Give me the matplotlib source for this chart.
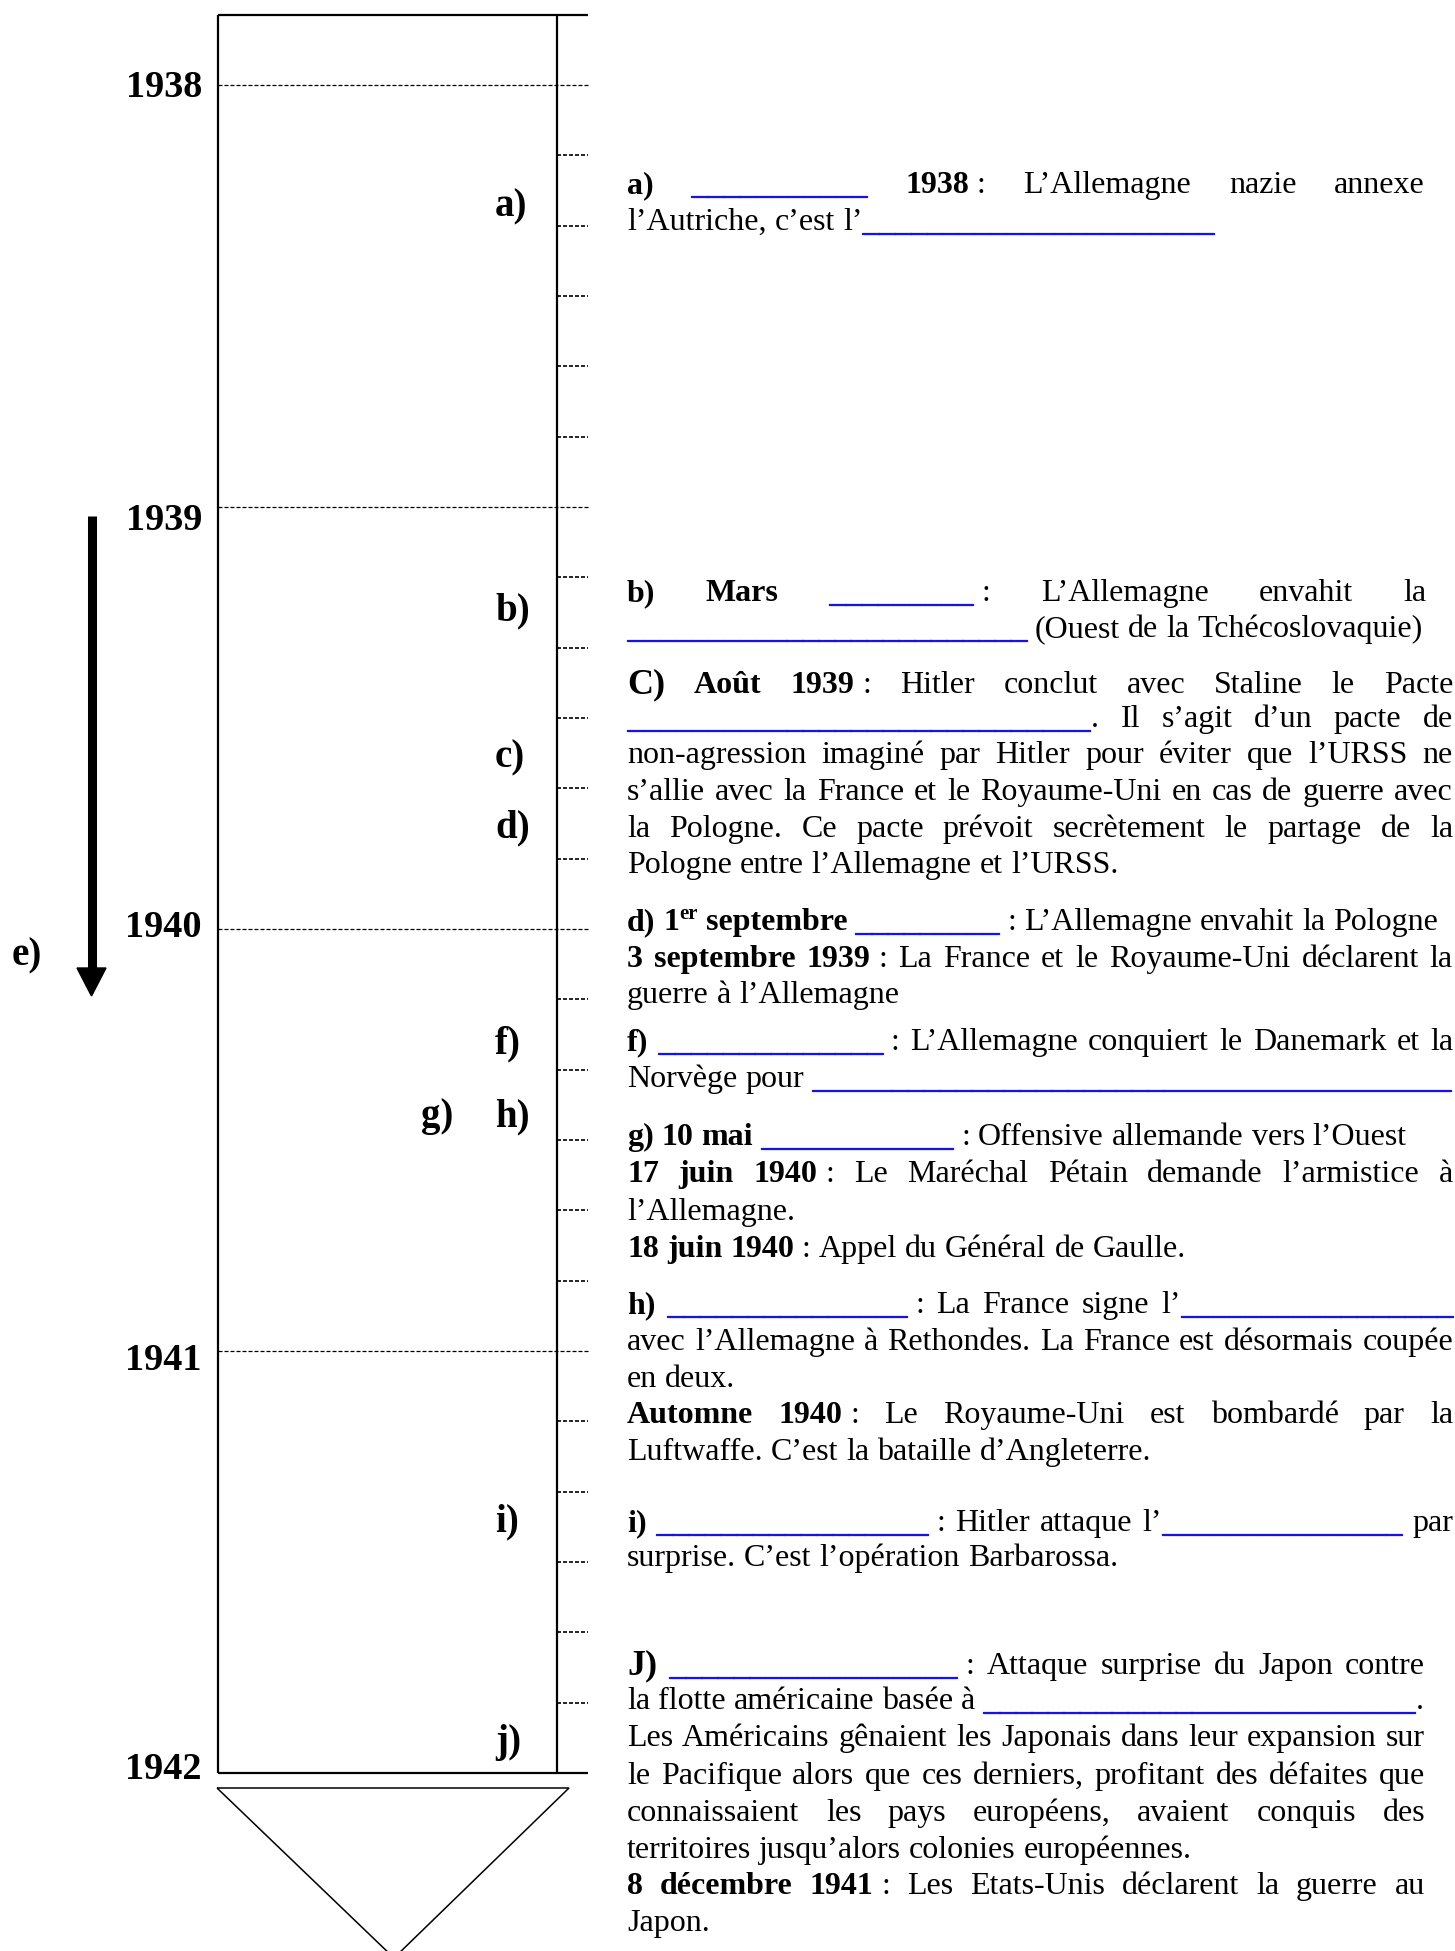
import matplotlib
matplotlib.use("Agg")
import matplotlib.pyplot as plt
import matplotlib.patheffects as pe
from matplotlib.font_manager import FontProperties
from matplotlib.patches import Polygon

# ---- data -------------------------------------------------------------
years = [1938, 1939, 1940, 1941, 1942]
tick_months = [2, 4, 6, 8, 10]          # small marks every two months
year_label_base = [97, 530, 937, 1370, 1779]

event_labels = ["a)", "b)", "c)", "d)", "e)", "f)", "g)", "h)", "i)", "j)"]
event_label_x = [495, 495, 495, 495, 12, 495, 421, 495, 495, 495]
event_label_base = [216, 620, 767, 837, 965, 1053, 1126, 1126, 1531, 1752]

NB = "\u00a0"
# each line: (baseline, right edge, justified?, runs)
# run styles: n normal, b bold, B big bold, u blue blank (count of "_"), s superscript
text_lines = [
    (193, 1425, True, [("b", "a)"), ("n", " "), ("u", 11), ("n", " "), ("b", "1938"),
                       ("n", NB + ": L’Allemagne nazie annexe")]),
    (230, 1453, False, [("n", "l’Autriche, c’est l’"), ("u", 22)]),

    (601, 1427, True, [("b", "b)"), ("n", " "), ("b", "Mars"), ("n", " "), ("u", 9),
                       ("n", NB + ": L’Allemagne envahit la")]),
    (637, 1427, False, [("u", 25), ("n", " (Ouest de la Tchécoslovaquie)")]),

    (693, 1453, True, [("B", "C)"), ("n", " "), ("b", "Août 1939"),
                       ("n", NB + ": Hitler conclut avec Staline le Pacte")]),
    (727, 1453, True, [("u", 29), ("n", ". Il s’agit d’un pacte de")]),
    (763, 1453, True, [("n", "non-agression imaginé par Hitler pour éviter que l’URSS ne")]),
    (800, 1453, True, [("n", "s’allie avec la France et le Royaume-Uni en cas de guerre avec")]),
    (837, 1453, True, [("n", "la Pologne. Ce pacte prévoit secrètement le partage de la")]),
    (873, 1453, False, [("n", "Pologne entre l’Allemagne et l’URSS.")]),

    (930, 1453, False, [("b", "d) 1"), ("s", "er"), ("b", " septembre"), ("n", " "), ("u", 9),
                        ("n", NB + ": L’Allemagne envahit la Pologne")]),
    (967, 1453, True, [("b", "3 septembre 1939"),
                       ("n", NB + ": La France et le Royaume-Uni déclarent la")]),
    (1003, 1453, False, [("n", "guerre à l’Allemagne")]),

    (1050, 1453, True, [("b", "f)"), ("n", " "), ("u", 14),
                        ("n", NB + ": L’Allemagne conquiert le Danemark et la")]),
    (1087, 1453, False, [("n", "Norvège pour "), ("u", 40)]),

    (1145, 1453, False, [("b", "g) 10 mai"), ("n", " "), ("u", 12),
                         ("n", NB + ": Offensive allemande vers l’Ouest")]),
    (1182, 1453, True, [("b", "17 juin 1940"),
                        ("n", NB + ": Le Maréchal Pétain demande l’armistice à")]),
    (1220, 1453, False, [("n", "l’Allemagne.")]),
    (1257, 1453, False, [("b", "18 juin 1940"), ("n", NB + ": Appel du Général de Gaulle.")]),

    (1313, 1453, True, [("b", "h)"), ("n", " "), ("u", 15), ("n", NB + ": La France signe l’"),
                        ("u", 17)]),
    (1350, 1453, True, [("n", "avec l’Allemagne à Rethondes. La France est désormais coupée")]),
    (1387, 1453, False, [("n", "en deux.")]),
    (1423, 1453, True, [("b", "Automne 1940"),
                        ("n", NB + ": Le Royaume-Uni est bombardé par la")]),
    (1460, 1453, False, [("n", "Luftwaffe. C’est la bataille d’Angleterre.")]),

    (1531, 1453, True, [("b", "i)"), ("n", " "), ("u", 17), ("n", NB + ": Hitler attaque l’"),
                        ("u", 15), ("n", " par")]),
    (1566, 1453, False, [("n", "surprise. C’est l’opération Barbarossa.")]),

    (1674, 1425, True, [("B", "J)"), ("n", " "), ("u", 18),
                        ("n", NB + ": Attaque surprise du Japon contre")]),
    (1709, 1425, False, [("n", "la flotte américaine basée à "), ("u", 27), ("n", ".")]),
    (1746, 1425, True, [("n", "Les Américains gênaient les Japonais dans leur expansion sur")]),
    (1784, 1425, True, [("n", "le Pacifique alors que ces derniers, profitant des défaites que")]),
    (1821, 1425, True, [("n", "connaissaient les pays européens, avaient conquis des")]),
    (1858, 1425, False, [("n", "territoires jusqu’alors colonies européennes.")]),
    (1894, 1425, True, [("b", "8 décembre 1941"),
                        ("n", NB + ": Les Etats-Unis déclarent la guerre au")]),
    (1931, 1425, False, [("n", "Japon.")]),
]
TEXT_LEFT = 627

# ---- figure -----------------------------------------------------------
W, H = 1455, 1951
fig = plt.figure(figsize=(W / 100, H / 100), dpi=100)

# pixel layer for the text column
ax = fig.add_axes([0, 0, 1, 1])
ax.set_xlim(0, W)
ax.set_ylim(H, 0)
ax.axis("off")

# timeline layer, vertical axis in years
tl = fig.add_axes([0, 0, 1, 1])
tl.set_xlim(0, W)
tl.set_ylim(1938 + (H - 85) / 422, 1938 - 85 / 422)
tl.axis("off")

SERIF = ["Liberation Serif", "DejaVu Serif"]
BLUE = "#1414e6"
STYLES = {
    "n": dict(size=23, weight="normal", color="black", rise=0),
    "b": dict(size=23, weight="bold", color="black", rise=0),
    "B": dict(size=26, weight="bold", color="black", rise=0),
    "u": dict(size=23, weight="normal", color=BLUE, rise=0),
    "s": dict(size=15, weight="bold", color="black", rise=11),
}

renderer = fig.canvas.get_renderer()


def fprop(st):
    return FontProperties(family=SERIF, size=STYLES[st]["size"], weight=STYLES[st]["weight"])


def adv(s, st):
    p = fprop(st)
    w1 = renderer.get_text_width_height_descent("|" + s + "|", p, ismath=False)[0]
    w0 = renderer.get_text_width_height_descent("||", p, ismath=False)[0]
    return w1 - w0


def words_of(runs):
    words = [[]]
    for st, txt in runs:
        if st == "u":
            txt = "_" * txt
        for k, part in enumerate(txt.split(" ")):
            if k > 0:
                words.append([])
            if part:
                words[-1].append((st, part))
    return [w for w in words if w]


def word_width(word):
    total = 0
    for st, txt in word:
        bits = txt.split(NB)
        for k, b in enumerate(bits):
            if k > 0:
                total += adv(" ", st)
            if b:
                total += adv(b, st)
    return total


def draw_word(x, y, word):
    for st, txt in word:
        s = STYLES[st]
        bits = txt.split(NB)
        for k, b in enumerate(bits):
            if k > 0:
                x += adv(" ", st)
            if b:
                t = ax.text(x, y - s["rise"], b, fontproperties=fprop(st), color=s["color"],
                            ha="left", va="baseline")
                if st == "u":
                    t.set_path_effects([pe.withStroke(linewidth=0.9, foreground=BLUE)])
                x += adv(b, st)
    return x


space_w = adv(" ", "n")
for base, right, justify, runs in text_lines:
    words = words_of(runs)
    widths = [word_width(w) for w in words]
    gap = space_w
    if justify and len(words) > 1:
        gap = max((right - TEXT_LEFT - sum(widths)) / (len(words) - 1), 0.4 * space_w)
    x = TEXT_LEFT
    for w, wd in zip(words, widths):
        draw_word(x, base, w)
        x += wd + gap

# ---- timeline ---------------------------------------------------------
x_left, x_mid, x_right = 218, 557, 588
top = years[0] - 2 / 12
tl.hlines([top, years[-1]], x_left, x_right, color="black", lw=1.6)
tl.vlines([x_left, x_mid], top, years[-1], color="black", lw=1.6)
tl.hlines(years[:-1], x_left, x_right, color="black", lw=0.9, linestyles=(0, (3.2, 1.6)))
marks = [y + m / 12 for y in years[:-1] for m in tick_months]
tl.hlines(marks, x_mid, x_right, color="black", lw=1.2, linestyles=(0, (2.4, 1.2)))

label_font = FontProperties(family=SERIF, size=27.5, weight="bold")
for yr, b in zip(years, year_label_base):
    ax.text(202, b, str(yr), fontproperties=label_font, ha="right", va="baseline")

letter_font = FontProperties(family=SERIF, size=28, weight="bold")
for lab, x, b in zip(event_labels, event_label_x, event_label_base):
    ax.text(x, b, lab, fontproperties=letter_font, ha="left", va="baseline")

# arrow for e)
ax.plot([92, 92], [516, 970], color="black", lw=6.5, solid_capstyle="butt")
ax.add_patch(Polygon([(77, 968), (106, 968), (91.5, 996)], closed=True, color="black"))

# open triangle below the column
ax.add_patch(Polygon([(217, 1788), (569, 1788), (394, 1958)], closed=True, fill=False,
                     edgecolor="black", lw=1.1))

fig.savefig("out.png", dpi=100, facecolor="white")
